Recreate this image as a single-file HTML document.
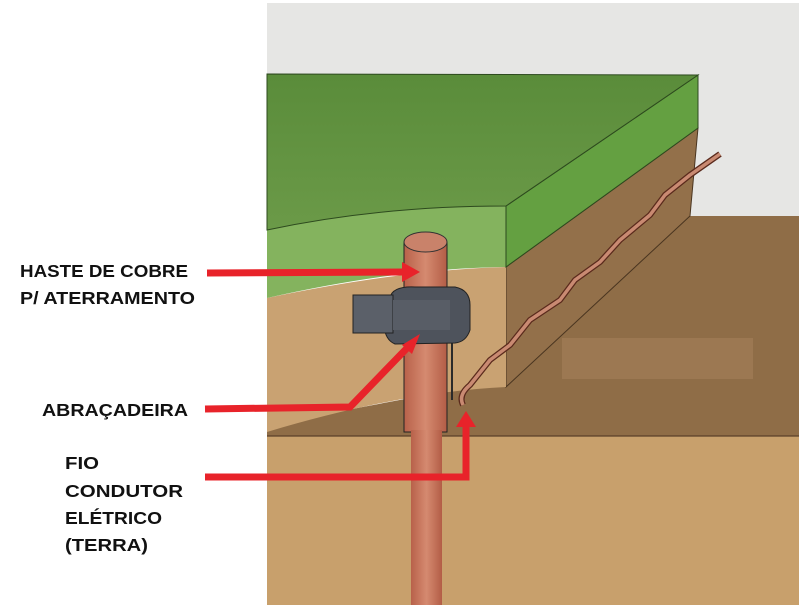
<!DOCTYPE html>
<html><head><meta charset="utf-8"><style>
html,body{margin:0;padding:0;background:#fff;width:799px;height:610px;overflow:hidden}
svg{display:block}
text{font-family:"Liberation Sans",sans-serif;font-weight:bold;font-size:17.5px;fill:#111}
</style></head><body>
<svg width="799" height="610" viewBox="0 0 799 610">
<defs>
<linearGradient id="rod" x1="0" x2="1"><stop offset="0" stop-color="#b8614a"/><stop offset="0.5" stop-color="#d58a70"/><stop offset="1" stop-color="#b35d46"/></linearGradient>
<linearGradient id="grassTop" x1="0" y1="0" x2="0" y2="1"><stop offset="0" stop-color="#5a8c3a"/><stop offset="1" stop-color="#6b9a48"/></linearGradient>
</defs>
<rect x="0" y="0" width="799" height="610" fill="#fff"/>
<!-- wall -->
<rect x="267" y="3" width="532" height="215" fill="#e6e6e4"/>
<!-- right back ground -->
<polygon points="690,216 799,216 799,436 267,436 267,425 506,380" fill="#8f6d47"/>
<rect x="562" y="338" width="191" height="41" fill="#9c7852"/>
<!-- lower soil -->
<rect x="267" y="436" width="532" height="169" fill="#c8a06c"/>
<line x1="267" y1="436" x2="799" y2="436" stroke="#5a4028" stroke-width="1.2"/>
<!-- soil right face -->
<polygon points="506,267 698,128 690,216 506,387" fill="#93704a" stroke="#4a3520" stroke-width="1"/>
<!-- cut soil front -->
<path d="M267,298 Q400,270 506,267 L506,387 Q400,392 267,432 Z" fill="#c9a272"/>
<!-- grass front face -->
<path d="M267,230 Q380,206 506,206 L506,267 Q400,268 267,298 Z" fill="#84b35e"/>
<!-- grass right face -->
<polygon points="506,206 698,75 698,128 506,267" fill="#64a041" stroke="#2d4a1e" stroke-width="1"/>
<!-- grass top -->
<path d="M267,74 L698,75 L506,206 Q380,206 267,230 Z" fill="url(#grassTop)" stroke="#2d4a1e" stroke-width="1"/>
<!-- wire -->
<path d="M463,405 Q458,395 470,385 L490,360 L510,345 L530,320 L560,300 L575,280 L600,262 L620,240 L650,215 L665,195 L690,175 L720,154" fill="none" stroke="#5a2a1c" stroke-width="6" stroke-linejoin="round"/>
<path d="M463,405 Q458,395 470,385 L490,360 L510,345 L530,320 L560,300 L575,280 L600,262 L620,240 L650,215 L665,195 L690,175 L720,154" fill="none" stroke="#c98a72" stroke-width="3.5" stroke-linejoin="round"/>
<line x1="452" y1="340" x2="452" y2="400" stroke="#2a2a2a" stroke-width="2"/>
<!-- rod -->
<rect x="404" y="242" width="43" height="190" fill="url(#rod)" stroke="#222" stroke-width="1"/>
<ellipse cx="425.5" cy="242" rx="21.5" ry="10" fill="#c9826a" stroke="#333" stroke-width="1"/>
<rect x="411" y="430" width="31" height="175" fill="url(#rod)"/>
<!-- clamp -->
<path d="M390,298 Q392,286 415,287 L455,287 Q470,290 470,305 L470,330 Q466,342 455,343 L395,344 Q385,340 384,325 Z" fill="#4e535c" stroke="#222" stroke-width="1"/>
<rect x="353" y="295" width="40" height="38" fill="#5b6069" stroke="#222" stroke-width="1"/>
<rect x="393" y="300" width="57" height="30" fill="#585d66"/>
<!-- red arrows -->
<g stroke="#e8232a" stroke-width="7" fill="none" stroke-linejoin="miter">
<line x1="207" y1="273" x2="405" y2="272"/>
<polyline points="205,409 350,407 410,345"/>
<polyline points="205,477 466,477 466,425"/>
</g>
<g fill="#e8232a">
<polygon points="402,262 420,272 402,282"/>
<polygon points="402,345 420,334 412,354"/>
<polygon points="456,427 466,411 476,427"/>
</g>
<!-- labels -->
<text x="20" y="277" textLength="168" lengthAdjust="spacingAndGlyphs">HASTE DE COBRE</text>
<text x="20" y="304" textLength="175" lengthAdjust="spacingAndGlyphs">P/ ATERRAMENTO</text>
<text x="42" y="416" textLength="146" lengthAdjust="spacingAndGlyphs">ABRAÇADEIRA</text>
<text x="65" y="469" textLength="34" lengthAdjust="spacingAndGlyphs">FIO</text>
<text x="65" y="497" textLength="118" lengthAdjust="spacingAndGlyphs">CONDUTOR</text>
<text x="65" y="524" textLength="97" lengthAdjust="spacingAndGlyphs">ELÉTRICO</text>
<text x="65" y="551" textLength="83" lengthAdjust="spacingAndGlyphs">(TERRA)</text>
</svg>
</body></html>
